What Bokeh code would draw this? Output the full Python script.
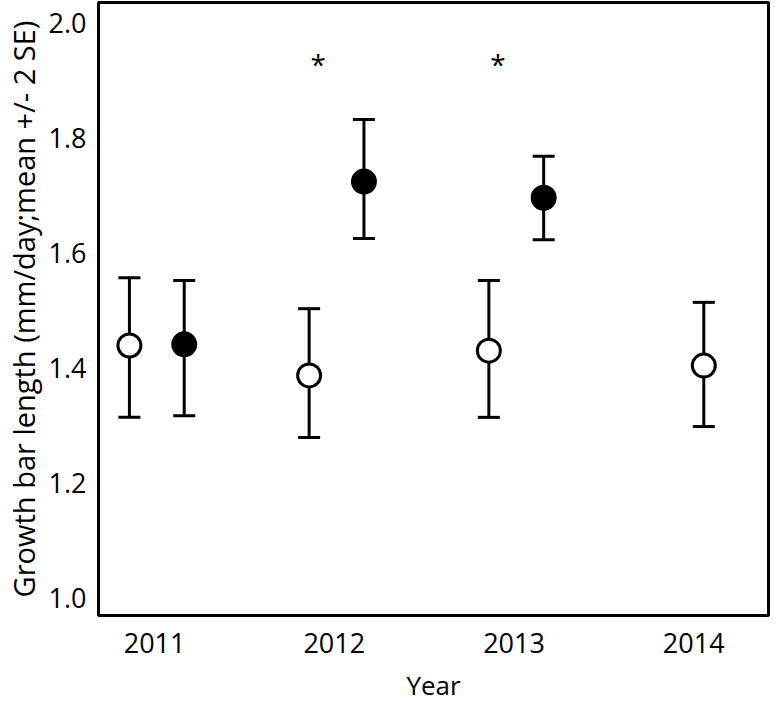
from bokeh.plotting import figure
from bokeh.models import ColumnDataSource, Whisker, TeeHead, FixedTicker, Range1d
from bokeh.core.properties import value
from bokeh.embed import file_html
from bokeh.resources import INLINE

# ---- data ----
years = [2011, 2012, 2013, 2014]
year_labels = ["2011", "2012", "2013", "2014"]
open_mean = [1.440, 1.388, 1.431, 1.405]
open_lower = [1.315, 1.280, 1.315, 1.299]
open_upper = [1.558, 1.504, 1.553, 1.515]

filled_years = [2011, 2012, 2013]
filled_mean = [1.442, 1.725, 1.697]
filled_lower = [1.318, 1.626, 1.624]
filled_upper = [1.553, 1.833, 1.769]

sig_years = [2012, 2013]
sig_level = 1.93

y_ticks = [1.0, 1.2, 1.4, 1.6, 1.8, 2.0]
y_tick_labels = ["1.0", "1.2", "1.4", "1.6", "1.8", "2.0"]

# ---- layout offsets (styling) ----
OPEN_DODGE = -0.14
FILLED_DODGE = 0.165
SINGLE_DODGE = 0.056
STAR_DODGE = -0.09

open_x = [y + (OPEN_DODGE if y in filled_years else SINGLE_DODGE) for y in years]
filled_x = [y + FILLED_DODGE for y in filled_years]
star_x = [y + STAR_DODGE for y in sig_years]

FONT = "Open Sans"

p = figure(frame_width=670, frame_height=613, output_backend="svg", toolbar_location=None,
           x_range=Range1d(2010.688, 2014.416), y_range=Range1d(0.9704, 2.0365),
           min_border_left=0, min_border_right=2, min_border_top=2, min_border_bottom=0)

p.outline_line_color = "black"
p.outline_line_width = 3
p.xgrid.visible = False
p.ygrid.visible = False
p.background_fill_color = "white"
p.border_fill_color = "white"

for ax in (p.xaxis[0], p.yaxis[0]):
    ax.axis_line_color = None
    ax.major_tick_line_color = None
    ax.minor_tick_line_color = None
    ax.major_tick_out = 0
    ax.major_tick_in = 0
    ax.minor_tick_out = 0
    ax.major_label_text_font = FONT
    ax.major_label_text_font_size = "27px"
    ax.major_label_text_color = "black"
    ax.axis_label_text_font = FONT
    ax.axis_label_text_font_style = "normal"
    ax.axis_label_text_color = "black"

p.xaxis.ticker = FixedTicker(ticks=years)
p.xaxis.major_label_overrides = {y: s for y, s in zip(years, year_labels)}
p.xaxis.major_label_standoff = 17
p.xaxis.axis_label = "Year"
p.xaxis.axis_label_text_font_size = "26px"
p.xaxis.axis_label_standoff = 11

p.yaxis.ticker = FixedTicker(ticks=y_ticks)
p.yaxis.major_label_overrides = {t: s for t, s in zip(y_ticks, y_tick_labels)}
p.yaxis.major_label_standoff = 12
p.yaxis.axis_label = "Growth bar length (mm/day;mean +/- 2 SE)"
p.yaxis.axis_label_text_font_size = "29px"
p.yaxis.axis_label_standoff = 3

open_src = ColumnDataSource(dict(x=open_x, m=open_mean, lo=open_lower, hi=open_upper))
filled_src = ColumnDataSource(dict(x=filled_x, m=filled_mean, lo=filled_lower, hi=filled_upper))

for src in (open_src, filled_src):
    w = Whisker(source=src, base="x", lower="lo", upper="hi", dimension="height",
                line_color="black", line_width=3,
                lower_head=TeeHead(size=22, line_width=3, line_color="black"),
                upper_head=TeeHead(size=22, line_width=3, line_color="black"))
    p.add_layout(w)

p.scatter("x", "m", source=open_src, size=23, fill_color="white", line_color="black", line_width=3)
p.scatter("x", "m", source=filled_src, size=23, fill_color="black", line_color="black", line_width=3)

p.text(x=star_x, y=[sig_level] * len(star_x), text=["*"] * len(star_x),
       text_font=value(FONT), text_font_size="28px", text_align="center",
       text_baseline="middle", text_color="black")

open("out.html", "w").write(file_html(p, INLINE))
